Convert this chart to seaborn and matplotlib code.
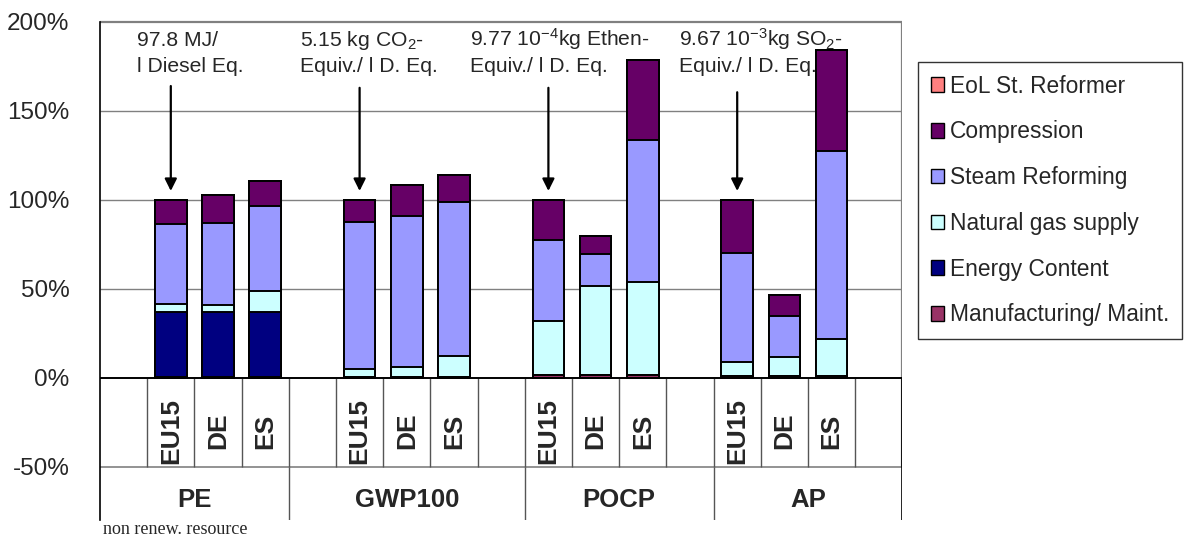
import numpy as np
import pandas as pd
import matplotlib
matplotlib.use("Agg")
import matplotlib.pyplot as plt
import seaborn as sns
from matplotlib.patches import Patch

# ---------------------------------------------------------------- data
indicators = ["PE", "GWP100", "POCP", "AP"]
regions = ["EU15", "DE", "ES"]

# category slots of the x axis, blank slots keep the groups apart
slots_pe = ["", "EU15", "DE", "ES"]
slots_gwp = ["", "EU15", "DE", "ES", ""]
slots_pocp = ["EU15", "DE", "ES", ""]
slots_ap = ["EU15", "DE", "ES", ""]

# contributions in % of the EU15 value of each indicator
# order within each list: PE (EU15, DE, ES), GWP100, POCP, AP
manufacturing = [0.3, 0.3, 0.3, 0.6, 0.6, 0.6, 1.3, 1.3, 1.3, 1.0, 1.0, 1.2]
energy_content = [36.5, 36.5, 36.5, 0, 0, 0, 0, 0, 0, 0, 0, 0]
natural_gas = [4.9, 4.2, 11.7, 4.3, 5.2, 11.8, 30.8, 50.2, 52.5, 8.0, 10.5, 20.8]
steam_reforming = [44.6, 46.2, 47.8, 82.9, 85.2, 86.5, 45.2, 17.9, 80.0, 61.1, 23.3, 105.5]
compression = [13.7, 15.4, 14.1, 12.2, 17.3, 15.2, 22.7, 10.3, 44.6, 29.9, 11.6, 56.7]
eol_reformer = [0, 0, 0, 0, 0, 0, 0, 0, 0, 0, 0, 0]

components = ["Manufacturing/ Maint.", "Energy Content", "Natural gas supply",
              "Steam Reforming", "Compression", "EoL St. Reformer"]
component_values = [manufacturing, energy_content, natural_gas,
                    steam_reforming, compression, eol_reformer]
component_colors = ["#993366", "#000080", "#CCFFFF", "#9999FF", "#660066", "#FF8080"]

annotation_lines = [
    ("97.8 MJ/", "l Diesel Eq."),
    (r"5.15 kg CO$_2$-", "Equiv./ l D. Eq."),
    (r"9.77 10$^{-4}$kg Ethen-", "Equiv./ l D. Eq."),
    (r"9.67 10$^{-3}$kg SO$_2$-", "Equiv./ l D. Eq."),
]

# ---------------------------------------------------------------- frame
keys = [f"{ind}|{reg}" for ind in indicators for reg in regions]
df = pd.DataFrame({"key": keys})
cum = np.zeros(len(keys))
cum_cols = []
for name, vals in zip(components, component_values):
    cum = cum + np.asarray(vals, dtype=float)
    col = "cum_" + name
    df[col] = cum
    cum_cols.append(col)

order, slot_labels, group_spans = [], [], []
for ind, slots in zip(indicators, [slots_pe, slots_gwp, slots_pocp, slots_ap]):
    start = len(order)
    for j, s in enumerate(slots):
        order.append(f"{ind}|{s}" if s else f"{ind}|_blank{j}")
        slot_labels.append(s)
    group_spans.append((ind, start, len(order)))
n_slots = len(order)

# ---------------------------------------------------------------- style
sns.set_style("white")
plt.rcParams["font.family"] = ["Liberation Sans", "DejaVu Sans"]
plt.rcParams["mathtext.fontset"] = "custom"
plt.rcParams["mathtext.rm"] = "Liberation Sans"
plt.rcParams["mathtext.it"] = "Liberation Sans:italic"
plt.rcParams["mathtext.bf"] = "Liberation Sans:bold"

fig = plt.figure(figsize=(11.85, 5.38), dpi=100)
ax = fig.add_axes([100 / 1185, 18 / 538, 802.4 / 1185, 498 / 538])

# stacked bars: draw cumulative totals from the top layer down
for col, color in reversed(list(zip(cum_cols, component_colors))):
    sns.barplot(data=df, x="key", y=col, order=order, color=color, saturation=1,
                width=0.67, edgecolor="black", linewidth=1.4, errorbar=None,
                ax=ax, zorder=3)

ax.set_xlim(-0.5, n_slots - 0.5)
ax.set_ylim(-80, 200)
ax.set_xlabel("")
ax.set_ylabel("")
ax.set_xticks([])
ax.set_yticks([-50, 0, 50, 100, 150, 200])
ax.set_yticklabels([f"{v}%" for v in [-50, 0, 50, 100, 150, 200]], fontsize=17.5)
ax.tick_params(axis="y", direction="out", length=6, width=1, color="black", pad=16)

for side in ["top", "right", "bottom"]:
    ax.spines[side].set_visible(False)
ax.spines["left"].set_color("black")
ax.spines["left"].set_linewidth(1.2)

x0, x1 = -0.5, n_slots - 0.5
grey = "#808080"
ax.hlines([50, 100, 150], x0, x1, color=grey, lw=1.0, zorder=1)
ax.hlines(200, x0, x1, color=grey, lw=1.6, zorder=1, clip_on=False)
ax.vlines(x1, -50, 200, color=grey, lw=1.6, zorder=1)
ax.hlines(-50, x0, x1, color=grey, lw=1.2, zorder=1)
ax.hlines(0, x0, x1, color="black", lw=1.4, zorder=4)

# category table below the zero line
ax.vlines(np.arange(n_slots) + 0.5, -50, 0, color="#555555", lw=1.0, zorder=2)
for _, a, b in group_spans[1:]:
    ax.vlines(a - 0.5, -80, -50, color="#555555", lw=1.0, zorder=2)
ax.vlines(x1, -80, 0, color="black", lw=1.2, zorder=2)

for i, lab in enumerate(slot_labels):
    if lab:
        ax.text(i, -30, lab, rotation=90, ha="center", va="center",
                fontsize=19, fontweight="bold")
for ind, a, b in group_spans:
    ax.text((a + b - 1) / 2, -69, ind, ha="center", va="center",
            fontsize=18.5, fontweight="bold")

# reference values of the EU15 bars
text_x = [0.29, 3.74, 7.34, 11.77]
arrow_start = [164, 163, 163, 160.5]
for ind, (l1, l2), tx, ys in zip(indicators, annotation_lines, text_x, arrow_start):
    ax.text(tx, 186.5, l1, ha="left", va="baseline", fontsize=15.2, zorder=6)
    ax.text(tx, 172, l2, ha="left", va="baseline", fontsize=15.2, zorder=6)
    xa = order.index(f"{ind}|EU15")
    ax.annotate("", xy=(xa, 105), xytext=(xa, ys),
                arrowprops=dict(arrowstyle="-|>", color="black", lw=1.6,
                                mutation_scale=18, shrinkA=0, shrinkB=0),
                zorder=6)

handles = [Patch(facecolor=c, edgecolor="black", linewidth=1.0, label=l)
           for l, c in reversed(list(zip(components, component_colors)))]
leg = fig.legend(handles=handles, loc="upper left",
                 bbox_to_anchor=(918 / 1185, 1 - 62 / 538), frameon=True,
                 fancybox=False, shadow=False, fontsize=16.4,
                 handlelength=0.6, handleheight=0.6, handletextpad=0.25,
                 labelspacing=1.0, borderpad=0.55, borderaxespad=0)
leg.get_frame().set_edgecolor("black")
leg.get_frame().set_linewidth(1.0)

fig.text(103 / 1185, 1 - 530 / 538, "non renew. resource", ha="left", va="center",
         fontsize=13, family=["Liberation Serif", "DejaVu Serif"])

fig.savefig("out.png", dpi=100)
